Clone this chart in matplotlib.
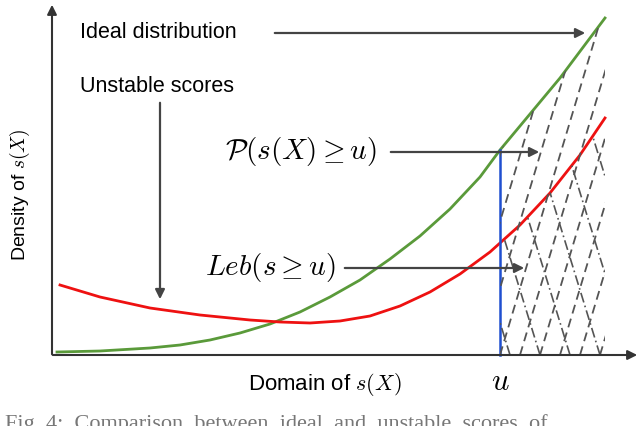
import matplotlib.pyplot as plt
import numpy as np
from matplotlib.patches import Polygon

plt.rcParams['font.family'] = ['Liberation Sans', 'DejaVu Sans']
plt.rcParams['mathtext.fontset'] = 'cm'

# curve points (pixel coords, y downward)
green_x = [57, 100, 150, 180, 210, 240, 270, 300, 330, 360, 390, 420, 450, 480, 500, 530, 560, 590, 605]
green_y = [352, 351, 348, 345, 340, 333, 324, 312, 297, 280, 259, 236, 209, 177, 150, 114, 78, 38, 18]
red_x = [60, 100, 150, 200, 250, 280, 310, 340, 370, 400, 430, 460, 490, 520, 550, 580, 605]
red_y = [285, 297, 308, 315, 320, 322, 323, 321, 316, 306, 292, 274, 252, 225, 193, 155, 118]
u_x = 500
base_y = 355

fig = plt.figure(figsize=(6.4, 4.26), dpi=100)
ax = fig.add_axes([0, 0, 1, 1])
ax.set_xlim(0, 640)
ax.set_ylim(426, 0)
ax.axis('off')

arrow = dict(arrowstyle='-|>', color='#444444', lw=1.6, mutation_scale=14)
# axes
ax.annotate('', xy=(640, base_y), xytext=(50, base_y), arrowprops=dict(arrowstyle='-|>', color='#333', lw=1.5, mutation_scale=14))
ax.annotate('', xy=(52, 2), xytext=(52, base_y + 2), arrowprops=dict(arrowstyle='-|>', color='#333', lw=1.5, mutation_scale=14))

ax.plot(green_x, green_y, color='#5a9a3a', lw=2)
ax.plot(red_x, red_y, color='#ee1111', lw=2)
gy_u = np.interp(u_x, green_x, green_y)
ax.plot([u_x, u_x], [base_y, gy_u], color='#1f4fd0', lw=1.8)

# hatched region
gx = [u_x] + [x for x in green_x if x > u_x]
gyy = [gy_u] + [y for x, y in zip(green_x, green_y) if x > u_x]
gpoly = Polygon(list(zip(gx, gyy)) + [(605, base_y), (u_x, base_y)], closed=True, fc='none', ec='none')
ax.add_patch(gpoly)
ry_u = np.interp(u_x, red_x, red_y)
rx = [u_x] + [x for x in red_x if x > u_x]
ryy = [ry_u] + [y for x, y in zip(red_x, red_y) if x > u_x]
rpoly = Polygon(list(zip(rx, ryy)) + [(605, base_y), (u_x, base_y)], closed=True, fc='none', ec='none')
ax.add_patch(rpoly)
for x0 in range(420, 620, 20):
    l, = ax.plot([x0, x0 + 120], [base_y, base_y - 400], color='#555', lw=1.3, ls=(0, (5, 3)))
    l.set_clip_path(gpoly)
for x0 in range(480, 720, 30):
    l, = ax.plot([x0, x0 - 80], [base_y, base_y - 260], color='#555', lw=1.2, ls=(0, (6, 2, 1, 2)))
    l.set_clip_path(rpoly)

fs = 15.5
ax.text(80, 33, 'Ideal distribution', fontsize=fs, va='center')
ax.annotate('', xy=(588, 33), xytext=(272, 33), arrowprops=arrow)
ax.text(80, 87, 'Unstable scores', fontsize=fs, va='center')
ax.annotate('', xy=(160, 302), xytext=(160, 100), arrowprops=arrow)
ax.text(225, 152, r'$\mathcal{P}(s(X)\geq u)$', fontsize=21, va='center')
ax.annotate('', xy=(542, 152), xytext=(388, 152), arrowprops=arrow)
ax.text(205, 268, r'$Leb(s\geq u)$', fontsize=21, va='center')
ax.annotate('', xy=(527, 268), xytext=(342, 268), arrowprops=arrow)
ax.text(325, 384, r'Domain of $s(X)$', fontsize=16, ha='center', va='center')
ax.text(u_x, 382, r'$u$', fontsize=22, ha='center', va='center')
ax.text(20, 195, r'Density of $s(X)$', fontsize=14, rotation=90, ha='center', va='center')
ax.text(5, 424, 'Fig. 4:  Comparison  between  ideal  and  unstable  scores  of', fontsize=16,
        color='#777', va='center', family='Liberation Serif')

fig.savefig('out.png', dpi=100)
